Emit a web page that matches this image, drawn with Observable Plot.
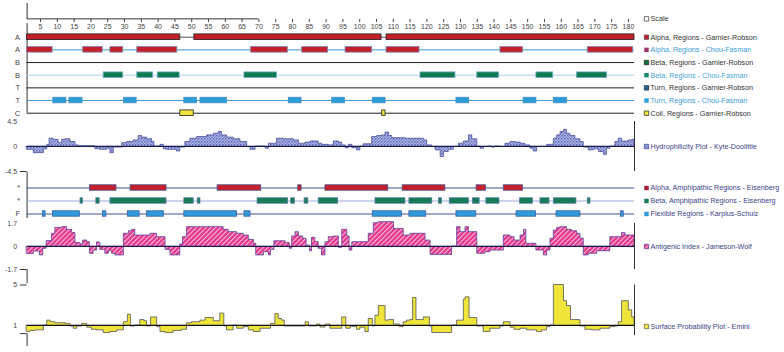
<!DOCTYPE html>
<html><head><meta charset="utf-8">
<script src="https://cdn.jsdelivr.net/npm/d3@7"></script>
<script src="https://cdn.jsdelivr.net/npm/@observablehq/plot@0.6"></script>
<style>
html,body{margin:0;padding:0;background:#fff;}
#chart{position:relative;width:784px;height:352px;overflow:hidden;background:#fff;}
</style></head><body>
<svg width="0" height="0" style="position:absolute">
<defs>
<pattern id="hydPat" width="3" height="3" patternUnits="userSpaceOnUse">
<rect width="3" height="3" fill="#b2b9e8"/><rect x="0" y="0" width="1.5" height="1.5" fill="#5b65b5"/><rect x="1.5" y="1.5" width="1.5" height="1.5" fill="#7f88ca"/>
</pattern>
<pattern id="antPat" width="3.4" height="3.4" patternUnits="userSpaceOnUse" patternTransform="rotate(45)">
<rect width="3.4" height="3.4" fill="#e5348b"/><rect width="1.1" height="3.4" fill="#f8c0da"/>
</pattern>
</defs></svg>
<div id="chart"></div>
<script>
// ---------- data ----------
const END = 181.8;                       // right end of the residue axis
const scaleTicks = d3.range(5, 181, 5);  // 5 .. 180

const trackLabels = ["A", "A", "B", "B", "T", "T", "C"];
const trackLegend = [
  "Alpha, Regions - Garnier-Robson", "Alpha, Regions - Chou-Fasman",
  "Beta, Regions - Garnier-Robson", "Beta, Regions - Chou-Fasman",
  "Turn, Regions - Garnier-Robson", "Turn, Regions - Chou-Fasman",
  "Coil, Regions - Garnier-Robson"];

// residue intervals [start, end]
const alphaGR = [[1,46.6],[50.8,106.5],[108,181.8]];
const alphaCF = [[1,8.6],[17.7,23.5],[25.8,29.6],[33.8,45.7],[67.7,78.6],[82.9,90.6],[95.8,103.7],[108,117.8],[141.9,148.6],[167.9,181.4]];
const betaGR = [];
const betaCF = [[23.8,29.6],[33.8,38.5],[39.9,46.4],[65.7,75.4],[118.1,128.5],[135,141.5],[152.6,157.6],[164.7,173.6]];
const turnGR = [];
const turnCF = [[8.8,12.7],[13.6,17.5],[29.8,33.6],[47.8,51.6],[52.6,60.5],[78.9,82.7],[91.8,95.6],[103.9,107.7],[128.8,132.6],[148.8,152.6],[157.8,161.7]];
const coilGR = [[46.6,50.6],[106.7,107.7]];

const eisLabels = ["*", "*", "F"];
const eisLegend = ["Alpha, Amphipathic Regions - Eisenberg", "Beta, Amphipathic Regions - Eisenberg", "Flexible Regions - Karplus-Schulz"];
const alphaAmph = [[19.7,27.6],[31.8,42.5],[57.7,70.7],[81.7,82.7],[89.8,108.5],[112.8,125.5],[134.8,137.6],[142.9,148.6]];
const betaAmph = [[16.9,17.6],[21.6,22.6],[25.8,42.5],[47.8,50.6],[51.8,52.6],[69.6,78.7],[79.6,80.7],[83.6,84.7],[87.8,93.6],[104.7,113.6],[114.8,121.6],[123.6,124.5],[126.8,132.5],[133.7,135.7],[137.7,141.6],[147.7,151.6],[153.8,156.5],[157.8,164.5],[167.9,168.7]];
const flexKS = [[5.7,6.5],[8.7,16.7],[23.6,24.6],[31,34.5],[36.7,41.7],[47.8,63.5],[65.7,67.5],[103.9,112.6],[114.8,119.8],[128.8,134.7],[146.7,152.5],[158.6,165.7],[177.8,178.6]];

// step profiles: [start residue, value]
const hydroKD = [[1,-0.6],[3,-1.2],[6,-0.5],[7,0.3],[7.7,1.4],[8.9,1.2],[10.4,0.6],[11.4,1.2],[12.4,1.3],[13.9,0.8],[15.4,0.2],[16.4,0.05],[21.3,-0.5],[22.8,-0.6],[24.8,-0.4],[25.8,-1.2],[26.8,-0.2],[29.3,0.6],[30.8,0.8],[32.7,1.1],[34.2,1.9],[35.2,1.6],[36.7,1.3],[38.2,0.8],[38.9,0],[40.7,0.3],[41.7,-0.5],[42.7,-0.6],[45.6,-0.9],[46.6,-0.2],[48.1,0.8],[49.6,1.4],[51.6,1.7],[54.6,2.0],[56.6,2.3],[58,2.6],[59,2.0],[60.5,1.6],[62.5,1.3],[64.5,0.8],[66.5,-0.1],[67.5,-0.6],[69,0],[72,-0.4],[73,0.5],[75.4,1.4],[77.4,1.3],[80.4,1.1],[81.9,0.5],[83.9,0.7],[85.4,0.9],[87.8,0.5],[88.8,0.3],[90.8,0.2],[92.3,0.9],[93.8,0.7],[94.8,0.2],[95.8,-0.3],[96.8,0.3],[97.8,-0.3],[99.2,-0.7],[100.2,0],[101.2,0.4],[103.7,1.7],[105.2,1.9],[106.7,2.0],[107.7,2.5],[108.7,1.9],[109.7,1.5],[113.6,1.4],[119.1,1.1],[120.1,0.2],[121.6,-0.1],[122.6,-0.7],[124.1,-1.9],[125.1,-1.0],[126.5,-0.6],[128,-0.1],[129.5,0.5],[131,0.9],[132.5,2.0],[133.5,1.3],[135,0],[136,-0.4],[137,-0.1],[138,0],[139.4,-0.2],[140.4,0],[141.9,-0.1],[143.4,0.5],[144.9,0.8],[146.4,0.7],[147.9,0.5],[149.3,0.2],[150.8,-0.4],[151.8,-0.9],[152.8,-0.1],[155.8,0.3],[157.8,1.4],[158.8,2.0],[159.8,2.6],[160.8,3.0],[161.7,2.3],[162.7,1.9],[164.2,1.3],[165.7,0.8],[166.7,-0.2],[168.2,-0.7],[169.7,-0.5],[171.2,-1.0],[172.7,-1.5],[173.6,-0.4],[174.6,0],[176.1,0.8],[177.1,1.4],[178.1,0.9],[180.1,1.1],[181.1,1.2]];

const antigenicJW = [[1,-0.55],[3,-0.37],[4.8,-0.66],[5.8,-0.17],[6.8,0.4],[8.4,0.94],[9.4,1.38],[11.4,1.43],[12.9,1.23],[14.4,0.99],[15.4,0.25],[16.9,0.15],[17.7,0.44],[18.9,0.32],[19.7,-0.54],[20.8,-0.3],[21.8,0.3],[22.8,-0.25],[24.3,-0.54],[25.3,-0.35],[26.3,-0.54],[27.3,-0.66],[29.8,0.94],[31.3,1.13],[32.3,1.23],[33.2,0.81],[37.7,0.94],[39.7,0.69],[42.2,-0.25],[43.7,-0.66],[46.6,0.15],[47.4,0.69],[48.6,1.43],[59.5,1.23],[61,1.06],[63.5,0.94],[65.5,0.81],[67,0.49],[68.5,0.2],[69.2,-0.66],[71.5,-0.42],[73,-0.66],[73.6,-0.25],[74.6,0.39],[77.9,0.25],[79.2,-0.17],[79.9,0.74],[80.9,1.06],[81.9,0.74],[83.2,0.57],[84.2,0.07],[85.2,-0.35],[85.8,0.64],[86.8,0.32],[87.8,-0.17],[88.8,-0.66],[89.8,0.32],[90.8,0.69],[92.3,0.74],[93.8,-0.1],[94.8,1.23],[96.3,0.74],[97,-0.3],[97.8,0.32],[102.7,0.94],[104.2,1.72],[105.7,1.8],[110.2,1.3],[113.1,0.81],[115.1,0.94],[119.6,0.44],[121.1,-0.62],[127.5,0.0],[129,1.43],[130,1.06],[131.5,1.43],[132.5,1.06],[135,-0.54],[137.4,-0.42],[138.9,-0.3],[142.9,0.81],[144.9,0.69],[146.1,0.44],[147.9,0.81],[148.9,1.23],[149.6,0.2],[152.6,-0.3],[154.8,-0.66],[155.8,-0.3],[156.8,0.57],[157.8,1.18],[158.8,1.38],[159.8,1.43],[161.7,1.23],[163.2,1.13],[164.7,0.94],[165.7,0.57],[166.7,-0.66],[168.2,-0.54],[170.7,-0.35],[174.6,0.69],[178.1,0.99],[179.1,0.81]];

const surfaceEmini = [[1,0.36],[2,0.46],[3.5,0.52],[6,1.0],[7,1.48],[8,1.32],[9.4,1.22],[12.4,1.16],[13.9,0.9],[14.9,0.68],[15.9,0.9],[17.4,1.16],[18.9,0.78],[20.3,0.58],[21.8,0.52],[23.8,0.26],[25.8,0.36],[27.8,0.52],[29.8,1.32],[31,2.06],[31.9,0.9],[33.2,1.0],[34.7,1.54],[35.9,1.42],[36.7,0.9],[37.9,1.8],[39.7,0.84],[40.7,0.36],[42.2,0.26],[44.6,0.46],[47.1,0.58],[48.6,1.22],[50.1,1.32],[52.6,1.48],[54.1,1.74],[56.6,1.42],[58.5,2.18],[59.7,0.9],[60.5,0.52],[62.5,1.0],[63.5,0.68],[65.5,0.84],[67,0.52],[68.5,0.36],[70.5,0.68],[73.6,1.16],[74.9,2.12],[75.9,1.64],[76.9,1.48],[77.7,0.9],[83.9,1.32],[84.9,0.9],[87.3,1.1],[88.3,0.8],[89.8,1.1],[91.3,0.68],[94.8,1.8],[96,0.68],[97.3,0.84],[99.2,0.58],[100.2,0.78],[101.7,0.36],[102.7,1.64],[103.9,0.9],[104.7,1.96],[105.7,2.92],[107.7,1.48],[108.7,1.54],[110.2,1.1],[112,0.84],[113.1,1.32],[114.1,1.48],[115.1,1.54],[115.9,3.72],[116.9,1.54],[119.1,1.8],[120.9,0.9],[121.6,0.26],[127.5,1.0],[129,1.48],[131,3.56],[131.5,3.78],[132.7,1.74],[135,0.9],[136.9,0.36],[138.9,0.68],[141.9,0.9],[142.9,1.32],[144.9,0.78],[146.1,0.58],[147.9,0.68],[149.8,0.52],[152.8,0.36],[154.3,0.52],[155.8,0.84],[156.8,1.0],[157.8,5.0],[160.8,3.4],[161.7,2.92],[162.9,1.54],[165.7,0.9],[167.2,0.58],[169.2,0.52],[171.7,0.68],[174.6,0.84],[176.1,0.9],[177.1,1.32],[178.1,3.4],[180.1,2.5],[181.1,1.8]];

const hydroTicks = [-4.5, 0, 4.5];
const antiTicks = [-1.7, 0, 1.7];
const surfTicks = [1, 5];

// ---------- helpers ----------
const FONT = "'Liberation Sans', Arial, Helvetica, sans-serif";
const chart = document.getElementById("chart");
function runsTable(runs) {
  const t = runs.map(([r, v]) => ({r, v}));
  t.push({r: END, v: runs[runs.length - 1][1]});
  return t;
}
function addPanel(o) {
  const opts = Object.assign({
    width: 784, height: 352, marginLeft: 26.6, marginRight: 150, marginTop: 0, marginBottom: 0,
    style: {background: "transparent", overflow: "visible", fontFamily: FONT,
            position: "absolute", left: "0px", top: "0px", maxWidth: "none"}
  }, o);
  opts.x = Object.assign({domain: [1, END], axis: null}, o.x || {});
  chart.appendChild(Plot.plot(opts));
}
function legendItem(y, label, fill, stroke, color) {
  return [
    Plot.dot([y], {x: () => END, y: d => d, dx: 12, symbol: "square", r: 2.5, fill, stroke: stroke || "none", strokeWidth: 0.7}),
    Plot.text([y], {x: () => END, y: d => d, dx: 16, text: () => label, textAnchor: "start", fontSize: 7.2, fill: color})
  ];
}
function barRows(series, styles, half) {
  const marks = [];
  series.forEach((s, i) => {
    marks.push(Plot.ruleY([i], {x1: 1, x2: END, stroke: styles[i].line, strokeWidth: 1}));
  });
  series.forEach((s, i) => {
    if (s.length) marks.push(Plot.rect(s, {x1: d => d[0], x2: d => d[1], y1: () => i - half, y2: () => i + half,
      fill: styles[i].fill, stroke: styles[i].stroke, strokeWidth: 0.8}));
  });
  return marks;
}
const numFmt = d => String(d);
const AX = {tickSize: 0, fontSize: 7, color: "#444", label: null, anchor: "left"};

// ---------- Scale ----------
addPanel({
  marginTop: 3, marginBottom: 333,
  y: {domain: [0, 1], axis: null},
  marks: [
    Plot.axisX(scaleTicks, {anchor: "bottom", tickSize: 3, tickPadding: 1.5, fontSize: 7, color: "#444", label: null}),
    Plot.ruleX([1], {y1: 0, y2: 1, stroke: "#333"}),
    Plot.ruleY([0.04], {x1: 1, x2: 70, stroke: "#333"}),
    ...legendItem(0.04, "Scale", "#fff", "#333", "#333")
  ]
});

// ---------- Secondary structure tracks ----------
const trackStyles = [
  {line: "#555", fill: "#c3202b", stroke: "#1a1a1a"},
  {line: "#3a9ad6", fill: "#c3202b", stroke: "#7c82b0"},
  {line: "#222", fill: "#0d6b3f", stroke: "#222"},
  {line: "#a8d3ee", fill: "#117a4f", stroke: "#6aa9c8"},
  {line: "#222", fill: "#1f6d9e", stroke: "#222"},
  {line: "#3a9ad6", fill: "#2b9cda", stroke: "#4a8fc0"},
  {line: "#222", fill: "#f0e53a", stroke: "#222"}
];
const trackLegendStyle = [
  ["#c3202b", "#555", "#333"], ["#a3346a", null, "#3a9ad6"], ["#0d6b3f", "#222", "#333"],
  ["#168a6c", null, "#4aa6da"], ["#1f6d9e", "#222", "#333"], ["#2aa0dc", null, "#3a9ad6"], ["#f0e53a", "#222", "#333"]
];
addPanel({
  y: {domain: [0, 6], range: [36.7, 112.7], axis: null},
  marks: [
    Plot.axisY(d3.range(7), {...AX, fontSize: 7.5, tickPadding: 7, tickFormat: (d) => trackLabels[d]}),
    Plot.ruleX([1], {y1: -1.08, y2: 6, stroke: "#333"}),
    ...barRows([alphaGR, alphaCF, betaGR, betaCF, turnGR, turnCF, coilGR], trackStyles, 0.22),
    ...trackLegend.flatMap((t, i) => legendItem(i, t, ...trackLegendStyle[i]))
  ]
});

// ---------- Hydrophilicity ----------
addPanel({
  y: {domain: [-4.5, 4.5], range: [171, 121], axis: null},
  marks: [
    Plot.axisY(hydroTicks, {...AX, tickPadding: 10, tickFormat: numFmt}),
    Plot.areaY(runsTable(hydroKD), {x: "r", y1: 0, y2: "v", curve: "step-after", fill: "url(#hydPat)", stroke: "#3a4290", strokeWidth: 0.7}),
    Plot.ruleY([0], {x1: 1, x2: END, stroke: "#1c1c44", strokeWidth: 1}),
    Plot.ruleX([END], {y1: -4.5, y2: 4.5, stroke: "#333"}),
    Plot.ruleY([-4.5], {x1: -1, x2: 1, stroke: "#333"}),
    ...legendItem(0, "Hydrophilicity Plot - Kyte-Doolittle", "url(#hydPat)", "#3a4290", "#3b4488")
  ]
});

// ---------- Eisenberg / Karplus-Schulz tracks ----------
const eisStyles = [
  {line: "#3f4f96", fill: "#c81f2d", stroke: "#4a4f8a"},
  {line: "#9aabd6", fill: "#167a57", stroke: "#5a7aa8"},
  {line: "#3f4f96", fill: "#2f9bd8", stroke: "#3a5ea8"}
];
const eisLegendFill = ["#a8203a", "#167a57", "#2f9bd8"];
addPanel({
  y: {domain: [0, 2], range: [187.5, 213.5], axis: null},
  marks: [
    Plot.axisY(d3.range(3), {...AX, fontSize: 7.5, tickPadding: 7, tickFormat: (d) => eisLabels[d]}),
    Plot.ruleX([1], {y1: -1.19, y2: 2.35, stroke: "#333"}),
    ...barRows([alphaAmph, betaAmph, flexKS], eisStyles, 0.21),
    ...eisLegend.flatMap((t, i) => legendItem(i, t, eisLegendFill[i], null, "#3b4488"))
  ]
});

// ---------- Antigenic index ----------
addPanel({
  y: {domain: [-1.7, 1.7], range: [269, 223], axis: null},
  marks: [
    Plot.axisY(antiTicks, {...AX, tickPadding: 10, tickFormat: numFmt}),
    Plot.areaY(runsTable(antigenicJW), {x: "r", y1: 0, y2: "v", curve: "step-after", fill: "url(#antPat)", stroke: "#5b3d99", strokeWidth: 0.8}),
    Plot.ruleY([0], {x1: 1, x2: END, stroke: "#1c1c44", strokeWidth: 1}),
    Plot.ruleX([END], {y1: -1.7, y2: 1.7, stroke: "#333"}),
    Plot.ruleY([-1.7], {x1: -1, x2: 1, stroke: "#333"}),
    Plot.ruleX([1], {y1: -1.7, y2: -2.75, stroke: "#333"}),
    ...legendItem(0, "Antigenic Index - Jameson-Wolf", "url(#antPat)", "#5b3d99", "#3b4488")
  ]
});

// ---------- Surface probability ----------
addPanel({
  y: {domain: [1, 5], range: [325, 284.5], axis: null},
  marks: [
    Plot.axisY(surfTicks, {...AX, tickPadding: 10, tickFormat: numFmt}),
    Plot.areaY(runsTable(surfaceEmini), {x: "r", y1: 1, y2: "v", curve: "step-after", fill: "#efe43a", stroke: "#555", strokeWidth: 0.8}),
    Plot.ruleY([1], {x1: 1, x2: END, stroke: "#111", strokeWidth: 1}),
    Plot.ruleX([END], {y1: 0, y2: 5, stroke: "#333"}),
    Plot.ruleY([5], {x1: -1, x2: 1, stroke: "#333"}),
    Plot.ruleY([0.2], {x1: -1, x2: 1, stroke: "#333"}),
    Plot.ruleX([1], {y1: 0.2, y2: -1.1, stroke: "#333"}),
    ...legendItem(0.9, "Surface Probability Plot - Emini", "#efe43a", "#555", "#3b4488")
  ]
});
</script>
</body></html>
